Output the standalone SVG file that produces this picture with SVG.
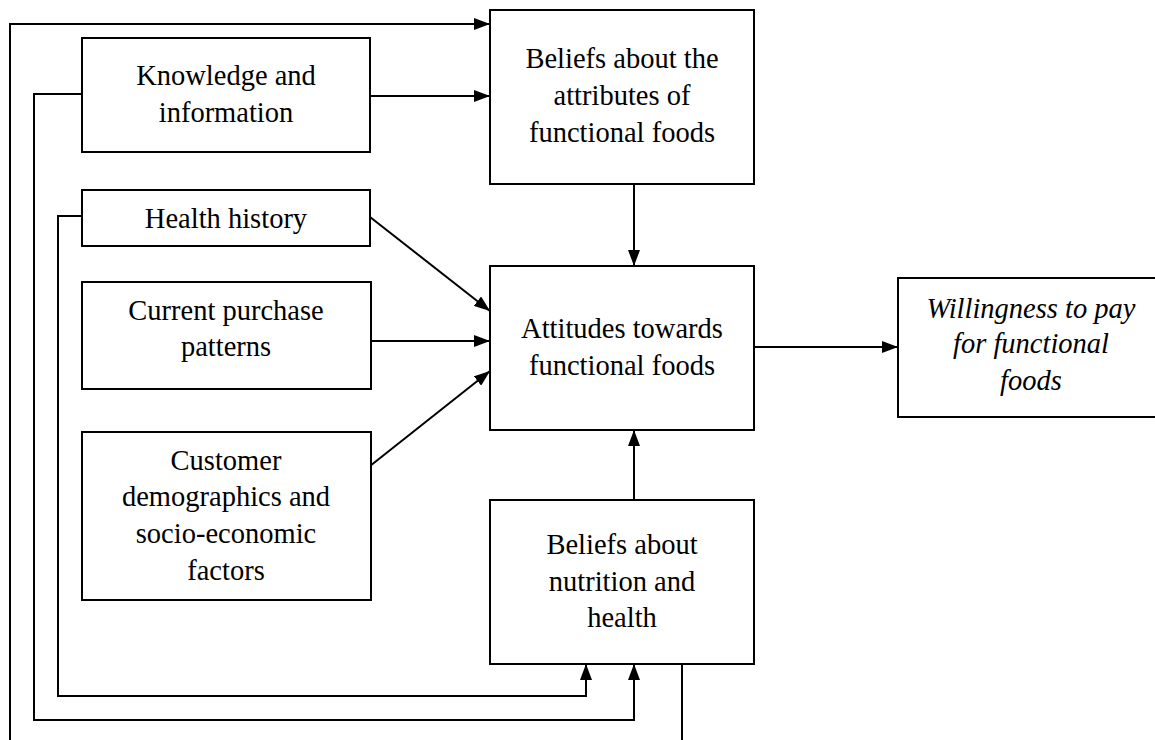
<svg xmlns="http://www.w3.org/2000/svg" width="1155" height="740" viewBox="0 0 1155 740">
  <style>
    .box { fill: #ffffff; stroke: #000000; stroke-width: 2; }
    .lbl { font-family: "Liberation Serif", "Times New Roman", serif; font-size: 28.5px; fill: #000000; text-anchor: middle; }
    .it { font-style: italic; }
    .conn { fill: none; stroke: #000000; stroke-width: 2; }
  </style>
  <defs>
    <marker id="arrow" viewBox="0 0 16 12" refX="16" refY="6" markerWidth="16" markerHeight="12" markerUnits="userSpaceOnUse" orient="auto">
      <path d="M0,0 L16,6 L0,12 Z" fill="#000000"/>
    </marker>
  </defs>
  <rect width="1155" height="740" fill="#ffffff"/>

  <g id="connectors">
    <path class="conn" d="M10,740 L10,24 L490,24" marker-end="url(#arrow)"/>
    <path class="conn" d="M370,96 L490,96" marker-end="url(#arrow)"/>
    <path class="conn" d="M82,94 L34,94 L34,720 L634,720 L634,664" marker-end="url(#arrow)"/>
    <path class="conn" d="M82,216 L58,216 L58,696 L586,696 L586,664" marker-end="url(#arrow)"/>
    <path class="conn" d="M370,217 L490,311" marker-end="url(#arrow)"/>
    <path class="conn" d="M371,341 L490,341" marker-end="url(#arrow)"/>
    <path class="conn" d="M370,466 L490,371" marker-end="url(#arrow)"/>
    <path class="conn" d="M634,184 L634,266" marker-end="url(#arrow)"/>
    <path class="conn" d="M634,500 L634,430" marker-end="url(#arrow)"/>
    <path class="conn" d="M754,347 L898,347" marker-end="url(#arrow)"/>
    <path class="conn" d="M682,664 L682,740"/>
  </g>

  <g id="knowledge">
    <rect class="box" x="82" y="38" width="288" height="114"/>
    <text class="lbl" x="226" y="85">Knowledge and</text>
    <text class="lbl" x="226" y="122">information</text>
  </g>

  <g id="health-history">
    <rect class="box" x="82" y="190" width="288" height="56"/>
    <text class="lbl" x="226" y="228">Health history</text>
  </g>

  <g id="current-purchase">
    <rect class="box" x="82" y="282" width="289" height="107"/>
    <text class="lbl" x="226" y="320">Current purchase</text>
    <text class="lbl" x="226" y="356">patterns</text>
  </g>

  <g id="customer-demographics">
    <rect class="box" x="82" y="432" width="289" height="168"/>
    <text class="lbl" x="226" y="470">Customer</text>
    <text class="lbl" x="226" y="506">demographics and</text>
    <text class="lbl" x="226" y="543">socio-economic</text>
    <text class="lbl" x="226" y="580">factors</text>
  </g>

  <g id="beliefs-attributes">
    <rect class="box" x="490" y="10" width="264" height="174"/>
    <text class="lbl" x="622" y="68">Beliefs about the</text>
    <text class="lbl" x="622" y="105">attributes of</text>
    <text class="lbl" x="622" y="142">functional foods</text>
  </g>

  <g id="attitudes">
    <rect class="box" x="490" y="266" width="264" height="164"/>
    <text class="lbl" x="622" y="338">Attitudes towards</text>
    <text class="lbl" x="622" y="375">functional foods</text>
  </g>

  <g id="beliefs-nutrition">
    <rect class="box" x="490" y="500" width="264" height="164"/>
    <text class="lbl" x="622" y="554">Beliefs about</text>
    <text class="lbl" x="622" y="591">nutrition and</text>
    <text class="lbl" x="622" y="627">health</text>
  </g>

  <g id="willingness">
    <rect class="box" x="898" y="278" width="266" height="139"/>
    <text class="lbl it" x="1031" y="318">Willingness to pay</text>
    <text class="lbl it" x="1031" y="353">for functional</text>
    <text class="lbl it" x="1031" y="390">foods</text>
  </g>
</svg>
